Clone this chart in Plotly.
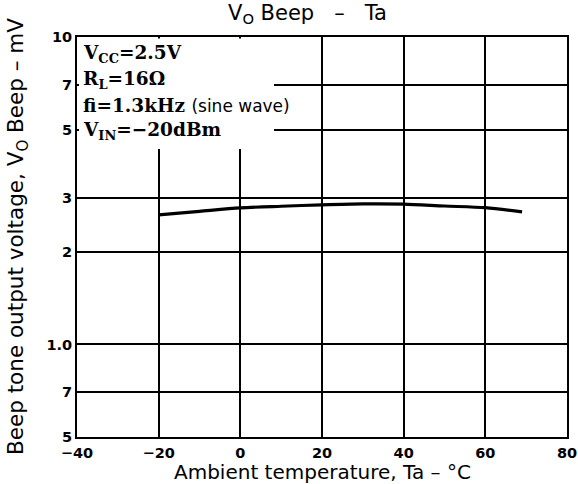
import plotly.graph_objects as go

# Data
temperature_c = [-20, -10, 0, 10, 20, 30, 40, 50, 60, 69]
vo_beep_mv = [2.64, 2.71, 2.78, 2.815, 2.845, 2.865, 2.86, 2.82, 2.785, 2.70]

x_tick_vals = [-40, -20, 0, 20, 40, 60, 80]
x_tick_text = ["−40", "−20", "0", "20", "40", "60", "80"]
y_tick_vals = [0.5, 0.7, 1.0, 2, 3, 5, 7, 10]
y_tick_text = ["5", "7", "1.0", "2", "3", "5", "7", "10"]

W, H = 578, 484
L, R, T, B = 77, 11, 37, 47
PW, PH = W - L - R, H - T - B


def px(xp):
    return (xp - L) / PW


def py(yp):
    return (H - B - yp) / PH


fig = go.Figure()
fig.add_trace(go.Scatter(
    x=temperature_c, y=vo_beep_mv, mode="lines",
    line=dict(color="black", width=3.2, shape="spline", smoothing=0.8),
    showlegend=False, hoverinfo="skip"))

tickfont = dict(family="DejaVu Sans", size=14.5, color="black", weight="bold")
fig.update_layout(
    width=W, height=H,
    margin=dict(l=L, r=R, t=T, b=B, autoexpand=False),
    paper_bgcolor="white", plot_bgcolor="white",
    xaxis=dict(range=[-40, 80], tickvals=x_tick_vals, ticktext=x_tick_text,
               showgrid=True, gridcolor="black", gridwidth=1.6,
               showline=True, linecolor="black", linewidth=2, mirror=True,
               ticks="", ticklabelstandoff=2, tickfont=tickfont, zeroline=False,
               automargin=False),
    yaxis=dict(type="log", range=[-0.30103, 1.0], tickvals=y_tick_vals, ticktext=y_tick_text,
               showgrid=True, gridcolor="black", gridwidth=1.6,
               showline=True, linecolor="black", linewidth=2, mirror=True,
               ticks="", ticklabelstandoff=0, tickfont=tickfont, zeroline=False,
               automargin=False),
)

# white box behind condition text (blanks grid lines there)
fig.add_shape(type="rect", xref="paper", yref="paper",
              x0=px(79), x1=px(274), y0=py(149), y1=py(38.5),
              fillcolor="white", line=dict(width=0), layer="above")

serif = dict(family="DejaVu Serif", size=18.5, color="black", weight="bold")
cond_lines = [
    ("V<sub>CC</sub>=2.5V", 54),
    ("R<sub>L</sub>=16Ω", 80),
    ("fi=1.3kHz <span style='font-family:DejaVu Sans;font-weight:normal;font-size:17px'>(sine wave)</span>", 105),
    ("V<sub>IN</sub>=−20dBm", 131),
]
for txt, yp in cond_lines:
    fig.add_annotation(text=txt, xref="paper", yref="paper", x=px(81), y=py(yp),
                       xanchor="left", yanchor="middle", showarrow=False, font=serif)

sans = "DejaVu Sans"
fig.add_annotation(text="V<sub>O</sub> Beep   –   Ta", xref="paper", yref="paper",
                   x=px(307), y=py(14), xanchor="center", yanchor="middle",
                   showarrow=False, font=dict(family=sans, size=21, color="black"))
fig.add_annotation(text="Ambient temperature, Ta – °C", xref="paper", yref="paper",
                   x=px(322), y=py(472), xanchor="center", yanchor="middle",
                   showarrow=False, font=dict(family=sans, size=20, color="black"))
fig.add_annotation(text="Beep tone output voltage, V<sub>O</sub> Beep – mV", xref="paper", yref="paper",
                   x=px(17), y=py(237), xanchor="center", yanchor="middle", textangle=-90,
                   showarrow=False, font=dict(family=sans, size=21.5, color="black"))

fig.write_html("out.html", config={"displayModeBar": False},
               post_script="document.body.style.margin='0';document.body.style.padding='0';")
